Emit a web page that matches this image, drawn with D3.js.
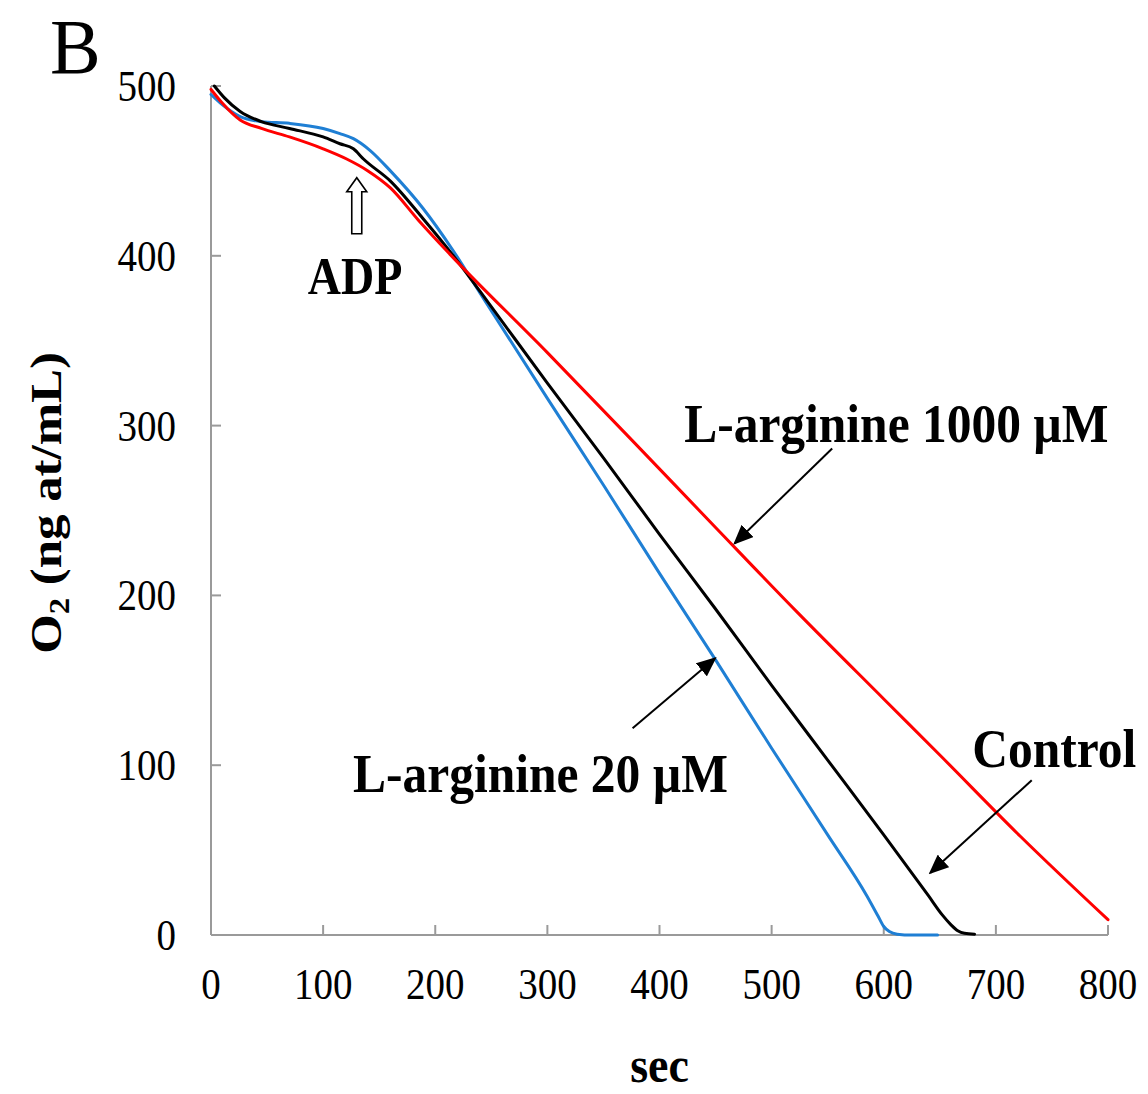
<!DOCTYPE html>
<html>
<head>
<meta charset="utf-8">
<script src="https://cdn.jsdelivr.net/npm/d3@7"></script>
<style>
  html, body { margin: 0; padding: 0; background: #fff; }
  svg { display: block; font-family: "Liberation Serif", "Times New Roman", serif; }
</style>
</head>
<body>
<div id="chart"></div>
<script>
// O2 traces (sec, ng at/mL)
const controlT = [3, 12, 26, 45, 70, 100, 115, 127, 136, 160, 189, 215, 240, 300, 350, 400, 450, 500, 550, 600, 640, 652, 660, 666, 672, 681];
const controlV = [500, 493, 485, 479, 475, 470, 466, 463, 457, 444, 422, 401, 379, 325, 281, 236, 192, 147, 103, 59, 23, 12, 6, 2.5, 1, 0.5];

const arg20T = [0, 10, 26, 45, 70, 100, 115, 127, 142, 160, 189, 215, 240, 300, 350, 400, 450, 500, 550, 585, 595, 600, 605, 612, 625, 648];
const arg20V = [495, 489, 482, 479, 478, 475, 472, 469, 462, 450, 428, 404, 378, 316, 265, 213, 162, 110, 59, 23, 11, 5, 2, 0.5, 0, 0];

const arg1000T = [0, 10, 26, 45, 70, 100, 121, 140, 160, 185, 213, 300, 376, 450, 523, 600, 650, 722, 800];
const arg1000V = [498, 490, 480, 475, 470, 463, 457, 450, 440, 421, 401, 343, 291, 240, 190, 139, 106, 58, 9];

const xTicks = [0, 100, 200, 300, 400, 500, 600, 700, 800];
const yTicks = [0, 100, 200, 300, 400, 500];

const SERIES = [
  { name: "L-arginine 20 µM",   t: arg20T,   v: arg20V,   color: "#1f7fd4" },
  { name: "Control",            t: controlT, v: controlV, color: "#000000" },
  { name: "L-arginine 1000 µM", t: arg1000T, v: arg1000V, color: "#ff0000" }
];

// labels with arrows, in data units: text start, arrow from -> to
const LABELS = [
  { text: "L-arginine 1000 µM", at: [422, 290.6], from: [554, 286.5], to: [467, 230.6] },
  { text: "L-arginine 20 µM",   at: [126.7, 84], from: [376, 121.8], to: [449.6, 163] },
  { text: "Control",            at: [679, 98.8], from: [732, 91.2],  to: [641.4, 36.5] }
];
const ADP = { text: "ADP", at: [128.5, 377.6], t: 130, tail: 413, head: 446 };

const W = 1148, H = 1094;
const m = { top: 86, right: 40, bottom: 159, left: 211 };
const SY = 1.13; // glyphs in the figure are a bit taller than wide

const svg = d3.select("#chart").append("svg")
  .attr("width", W).attr("height", H)
  .attr("viewBox", `0 0 ${W} ${H}`);

const x = d3.scaleLinear().domain([0, 800]).range([m.left, W - m.right]);
const y = d3.scaleLinear().domain([0, 500]).range([H - m.bottom, m.top]);

function txt(g, px, py, s, size, weight, anchor, sy) {
  return g.append("text")
    .attr("transform", `translate(${px},${py}) scale(1,${sy || SY})`)
    .attr("text-anchor", anchor || "start")
    .style("font-size", `${size}px`)
    .style("font-weight", weight || "normal")
    .attr("fill", "#000")
    .text(s);
}

// axes
const axG = svg.append("g");
axG.append("line")
  .attr("x1", x(0)).attr("y1", y(0)).attr("x2", x(800)).attr("y2", y(0))
  .attr("stroke", "#9a9a9a").attr("stroke-width", 2);
axG.append("line")
  .attr("x1", x(0)).attr("y1", y(0)).attr("x2", x(0)).attr("y2", y(500))
  .attr("stroke", "#9a9a9a").attr("stroke-width", 2);

xTicks.forEach(t => {
  axG.append("line")
    .attr("x1", x(t)).attr("x2", x(t)).attr("y1", y(0)).attr("y2", y(0) - 10)
    .attr("stroke", "#9a9a9a").attr("stroke-width", 2);
  txt(axG, x(t), y(0) + 64, String(t), 39, "normal", "middle");
});
yTicks.forEach(v => {
  axG.append("line")
    .attr("x1", x(0)).attr("x2", x(0) + 10).attr("y1", y(v)).attr("y2", y(v))
    .attr("stroke", "#9a9a9a").attr("stroke-width", 2);
  txt(axG, x(0) - 35, y(v) + 15, String(v), 39, "normal", "end");
});

// axis titles
txt(svg, (x(0) + x(800)) / 2, 1082, "sec", 46, "bold", "middle", 1.08);

const yt = svg.append("text")
  .attr("transform", `translate(61,503) rotate(-90) scale(${SY},1)`)
  .attr("text-anchor", "middle")
  .style("font-size", "45px").style("font-weight", "bold");
yt.append("tspan").text("O");
yt.append("tspan").attr("dy", 8).style("font-size", "29px").text("2");
yt.append("tspan").attr("dy", -8).text(" (ng at/mL)");

// panel letter
txt(svg, 50, 73, "B", 76, "normal", "start", 1.04);

// traces
const line = d3.line()
  .x(d => x(d[0])).y(d => y(d[1]))
  .curve(d3.curveMonotoneX);

svg.append("g").selectAll("path")
  .data(SERIES)
  .join("path")
  .attr("d", s => line(s.t.map((t, i) => [t, s.v[i]])))
  .attr("fill", "none")
  .attr("stroke", s => s.color)
  .attr("stroke-width", 3)
  .attr("stroke-linejoin", "round")
  .attr("stroke-linecap", "round");

// arrow marker
svg.append("defs").append("marker")
  .attr("id", "head")
  .attr("viewBox", "0 0 10 10")
  .attr("refX", 9).attr("refY", 5)
  .attr("markerWidth", 20).attr("markerHeight", 17)
  .attr("markerUnits", "userSpaceOnUse")
  .attr("orient", "auto")
  .attr("preserveAspectRatio", "none")
  .append("path").attr("d", "M0,0 L10,5 L0,10 Z").attr("fill", "#000");

const annG = svg.append("g");
LABELS.forEach(l => {
  annG.append("line")
    .attr("x1", x(l.from[0])).attr("y1", y(l.from[1]))
    .attr("x2", x(l.to[0])).attr("y2", y(l.to[1]))
    .attr("stroke", "#000").attr("stroke-width", 2)
    .attr("marker-end", "url(#head)");
  txt(annG, x(l.at[0]), y(l.at[1]), l.text, 49.5, "bold", "start");
});

// hollow ADP arrow
const ax = x(ADP.t), ayTail = y(ADP.tail), ayHead = y(ADP.head);
const sw = 5, hw = 10, hh = 14;
annG.append("path")
  .attr("d", `M${ax - sw},${ayTail} L${ax - sw},${ayHead + hh} L${ax - hw},${ayHead + hh} L${ax},${ayHead} L${ax + hw},${ayHead + hh} L${ax + sw},${ayHead + hh} L${ax + sw},${ayTail} Z`)
  .attr("fill", "#fff").attr("stroke", "#000").attr("stroke-width", 1.6);
txt(annG, x(ADP.at[0]), y(ADP.at[1]), ADP.text, 46, "bold", "middle");
</script>
</body>
</html>
